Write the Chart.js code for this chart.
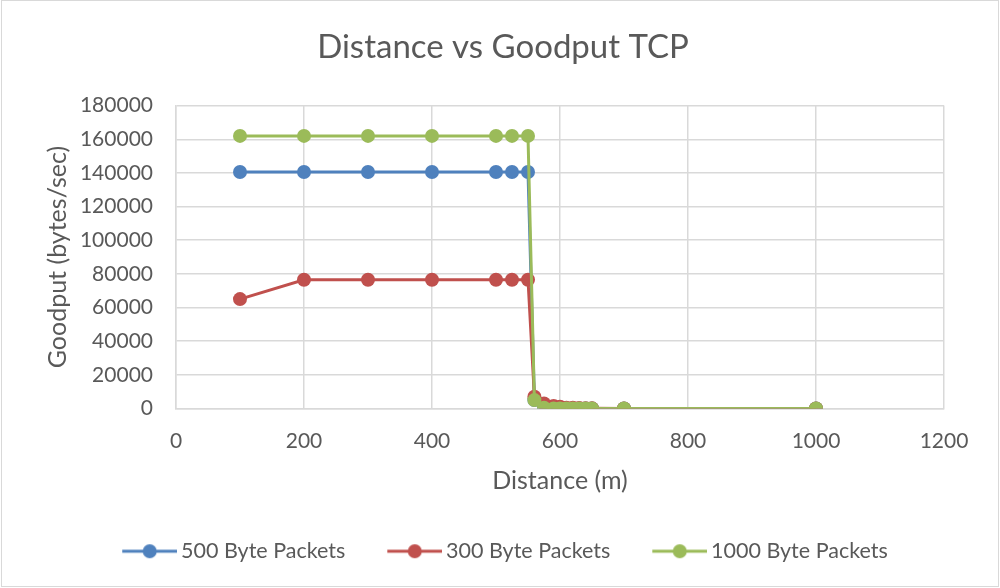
<!DOCTYPE html>
<html>
<head>
<meta charset="utf-8">
<script src="https://cdn.jsdelivr.net/npm/chart.js@4"></script>
<style>
  html, body { margin: 0; padding: 0; background: #fff; }
  #wrap { width: 1000px; height: 588px; }
</style>
</head>
<body>
<div id="wrap"><canvas id="chart" width="1000" height="588"></canvas></div>
<script>
// Distance (m) for each reading
const distances = [100, 200, 300, 400, 500, 525, 550, 560, 575, 590, 600, 610, 620, 630, 640, 650, 700, 1000];

// Goodput (bytes/sec) per packet size
const goodput500 = [140500, 140500, 140500, 140500, 140500, 140500, 140500, 5000, 500, 0, 0, 0, 0, 0, 0, 0, 0, 0];
const goodput300 = [65000, 76500, 76500, 76500, 76500, 76500, 76500, 7000, 3000, 1500, 1000, 500, 500, 300, 200, 100, 0, 0];
const goodput1000 = [162000, 162000, 162000, 162000, 162000, 162000, 162000, 5000, 500, 0, 0, 0, 0, 0, 0, 0, 0, 0];

const seriesNames = ['500 Byte Packets', '300 Byte Packets', '1000 Byte Packets'];
const seriesColors = ['#4F81BD', '#C0504D', '#9BBB59'];

const FONT = 'Lato, "Open Sans", sans-serif';
const TEXT = '#595959';
const GRID = '#D9D9D9';

const LEGEND_BOX = 80;

function toPoints(ys) {
  return distances.map((d, i) => ({ x: d, y: ys[i] }));
}

// legend swatch: line with a circle in the middle, like Excel.
// the image is wider than the legend box; the left part is left blank
// so the line sits close to its label and items get spaced out
function legendSwatch(color) {
  const c = document.createElement('canvas');
  c.width = LEGEND_BOX + 14;
  c.height = 16;
  const g = c.getContext('2d');
  const x0 = c.width - 55;
  g.strokeStyle = color;
  g.lineWidth = 3;
  g.beginPath();
  g.moveTo(x0, 8);
  g.lineTo(c.width, 8);
  g.stroke();
  g.fillStyle = color;
  g.beginPath();
  g.arc(x0 + 27.5, 8, 7, 0, Math.PI * 2);
  g.fill();
  return c;
}

const frame = {
  id: 'frame',
  beforeDraw(chart) {
    const ctx = chart.ctx;
    ctx.save();
    ctx.fillStyle = '#fff';
    ctx.fillRect(0, 0, chart.width, chart.height);
    ctx.strokeStyle = GRID;
    ctx.lineWidth = 1;
    ctx.strokeRect(1.5, 0.5, chart.width - 3, chart.height - 2);
    ctx.restore();
  }
};

// the blank left part of the swatches pushes the legend right; pull it back
const legendShift = {
  id: 'legendShift',
  afterLayout(chart) {
    if (chart.legend) {
      chart.legend.left -= 14;
      chart.legend.right -= 14;
    }
  }
};

const allSeries = [goodput500, goodput300, goodput1000];
const drawOrder = [2, 1, 0];

const datasets = allSeries.map((ys, i) => ({
  label: seriesNames[i],
  data: toPoints(ys),
  borderColor: seriesColors[i],
  backgroundColor: seriesColors[i],
  borderWidth: 3,
  pointRadius: 7,
  pointHoverRadius: 7,
  pointBorderWidth: 0,
  tension: 0,
  order: drawOrder[i]
}));

new Chart(document.getElementById('chart'), {
  type: 'line',
  data: { datasets },
  plugins: [frame, legendShift],
  options: {
    responsive: false,
    animation: false,
    layout: { padding: { left: 6, right: 0, top: 0, bottom: 16 } },
    plugins: {
      title: {
        display: true,
        text: 'Distance vs Goodput TCP',
        color: TEXT,
        font: { family: FONT, size: 33, weight: 'normal' },
        padding: { top: 28, bottom: 38 }
      },
      legend: {
        position: 'bottom',
        labels: {
          usePointStyle: true,
          pointStyleWidth: LEGEND_BOX,
          color: TEXT,
          font: { family: FONT, size: 21.5 },
          padding: 10,
          boxWidth: LEGEND_BOX,
          boxHeight: 16,
          generateLabels() {
            return seriesNames.map((name, i) => ({
              text: name,
              pointStyle: legendSwatch(seriesColors[i]),
              fillStyle: seriesColors[i],
              strokeStyle: seriesColors[i],
              lineWidth: 0,
              fontColor: TEXT,
              datasetIndex: i
            }));
          }
        }
      },
      tooltip: { enabled: false }
    },
    scales: {
      x: {
        type: 'linear',
        min: 0,
        max: 1200,
        afterFit(scale) { scale.height = 122; },
        ticks: {
          stepSize: 200, color: TEXT, font: { family: FONT, size: 21 }, padding: 20,
          callback: v => String(v)
        },
        grid: { color: GRID, lineWidth: 1.5, drawTicks: false },
        border: { color: GRID, width: 1.5 },
        title: {
          display: true,
          text: 'Distance (m)',
          color: TEXT,
          font: { family: FONT, size: 25 },
          padding: { top: 13, bottom: 35 }
        }
      },
      y: {
        min: 0,
        max: 180000,
        afterFit(scale) { scale.width = 170; },
        ticks: {
          stepSize: 20000, color: TEXT, font: { family: FONT, size: 21 }, padding: 23,
          callback: v => String(v)
        },
        grid: { color: GRID, lineWidth: 1.5, drawTicks: false },
        border: { color: GRID, width: 1.5 },
        title: {
          display: true,
          text: 'Goodput (bytes/sec)',
          color: TEXT,
          font: { family: FONT, size: 25 },
          padding: { top: 37, bottom: 0 }
        }
      },
      // empty right-hand axis that only reserves the right margin
      yRight: {
        type: 'linear',
        position: 'right',
        display: true,
        afterFit(scale) { scale.width = 56; },
        ticks: { display: false },
        grid: { display: false, drawOnChartArea: false },
        border: { display: false }
      }
    }
  }
});
</script>
</body>
</html>
